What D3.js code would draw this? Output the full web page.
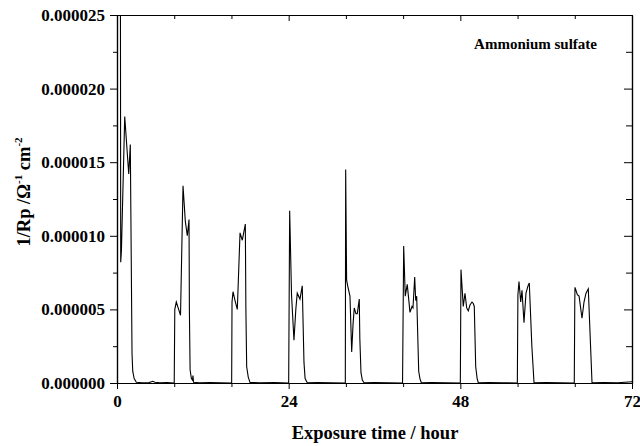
<!DOCTYPE html>
<html>
<head>
<meta charset="utf-8">
<script src="https://cdn.jsdelivr.net/npm/d3@7"></script>
<style>
  body { margin: 0; background: #fff; }
  text { font-family: "Liberation Serif", "Times New Roman", serif; font-weight: bold; fill: #000; }
</style>
</head>
<body>
<svg id="chart" width="640" height="446"></svg>
<script>
// exposure time (hours) and 1/Rp in units of 1e-6 ohm^-1 cm^-2
const hours = [
  0.40, 0.52, 0.62, 1.08, 1.64, 1.86, 2.10, 2.20, 2.40, 2.70, 3.5, 4.5, 5.0, 5.3, 6.0, 7.0, 7.98,
  8.00, 8.08, 8.29, 8.55, 8.88, 9.23, 9.55, 9.83, 10.07, 10.12, 10.22, 10.40, 10.55, 10.62, 10.70, 11.5, 13.0, 14.5, 15.98,
  16.03, 16.08, 16.22, 16.50, 16.82, 17.20, 17.52, 17.94, 18.02, 18.13, 18.35, 18.60, 20.0, 22.0, 23.98,
  24.00, 24.14, 24.40, 24.74, 25.00, 25.20, 25.58, 25.90, 26.14, 26.30, 26.60, 28.0, 30.0, 31.90,
  31.92, 31.97, 32.10, 32.25, 32.57, 32.81, 33.00, 33.17, 33.41, 33.59, 33.87, 33.95, 34.11, 34.30, 34.53, 36.0, 38.0, 39.90,
  39.92, 40.08, 40.30, 40.58, 40.96, 41.24, 41.38, 41.62, 41.76, 41.90, 42.18, 42.35, 42.54, 44.0, 46.0, 47.98,
  48.00, 48.09, 48.41, 48.65, 48.89, 49.11, 49.35, 49.63, 49.81, 49.95, 50.15, 50.35, 50.51, 52.0, 54.0, 55.95,
  55.97, 56.05, 56.20, 56.44, 56.62, 56.90, 57.18, 57.46, 57.64, 58.00, 58.30, 60.0, 62.0, 63.90,
  63.93, 64.00, 64.03, 64.36, 64.60, 65.01, 65.29, 65.57, 65.89, 66.41, 68.0, 70.0, 72.0
];
const conductance = [
  60, 8.2, 9.0, 18.1, 14.2, 16.2, 2.0, 0.8, 0.3, 0.05, 0.02, 0.03, 0.12, 0.05, 0.02, 0.03, 0.0,
  0.0, 5.0, 5.5, 5.1, 4.6, 13.4, 11.0, 10.0, 11.1, 5.0, 0.9, 0.3, 0.2, 0.5, 0.05, 0.02, 0.03, 0.02, 0.0,
  0.0, 5.5, 6.2, 5.6, 5.0, 10.2, 9.7, 10.8, 5.0, 1.1, 0.4, 0.03, 0.02, 0.03, 0.0,
  0.0, 11.7, 6.0, 2.9, 5.0, 6.1, 5.7, 6.6, 1.4, 0.3, 0.02, 0.03, 0.02, 0.0,
  0.0, 14.5, 7.0, 6.6, 5.9, 2.1, 4.0, 5.1, 4.7, 4.7, 5.7, 3.0, 0.7, 0.2, 0.02, 0.03, 0.02, 0.0,
  0.0, 9.3, 5.9, 6.7, 4.8, 5.2, 5.1, 7.2, 5.6, 5.9, 0.8, 0.3, 0.02, 0.03, 0.02, 0.0,
  0.0, 7.7, 5.2, 6.1, 5.1, 4.9, 5.3, 5.5, 5.4, 5.2, 1.1, 0.3, 0.02, 0.03, 0.02, 0.0,
  0.0, 6.0, 6.9, 5.5, 6.3, 4.1, 6.1, 6.6, 6.8, 2.5, 0.02, 0.03, 0.02, 0.0,
  0.0, 5.5, 6.5, 6.0, 5.9, 4.4, 5.5, 6.1, 6.4, 0.02, 0.03, 0.02, 0.08
];
const xMajorTicks = [0, 24, 48, 72];
const xMinorTicks = [8, 16, 32, 40, 56, 64];
const yMajorTicks = [0, 5, 10, 15, 20, 25];
const yMinorTicks = [2.5, 7.5, 12.5, 17.5, 22.5];

const margin = { top: 15, right: 8, bottom: 63, left: 117 },
  w = 640 - margin.left - margin.right,
  h = 446 - margin.top - margin.bottom;

const svg = d3.select("#chart");
const g = svg.append("g").attr("transform", `translate(${margin.left},${margin.top})`);

const x = d3.scaleLinear().domain([0, 72]).range([0, w]);
const y = d3.scaleLinear().domain([0, 25]).range([h, 0]);
const fmt = d => (d * 1e-6).toFixed(6);

function styleAxis(sel, size) {
  sel.select(".domain").attr("stroke", "#000").attr("stroke-width", 1.2);
  sel.selectAll(".tick line").attr("stroke", "#000").attr("stroke-width", 1);
  sel.selectAll("text").style("font-size", size + "px").attr("fill", "#000");
}

// minor ticks first (no labels)
g.append("g").attr("transform", `translate(0,${h})`)
  .call(d3.axisBottom(x).tickValues(xMinorTicks).tickSize(4).tickSizeOuter(0).tickFormat(""))
  .call(s => styleAxis(s, 17));
g.append("g")
  .call(d3.axisTop(x).tickValues(xMinorTicks).tickSize(-4).tickSizeOuter(0).tickFormat(""))
  .call(s => styleAxis(s, 17));
g.append("g")
  .call(d3.axisLeft(y).tickValues(yMinorTicks).tickSize(4).tickSizeOuter(0).tickFormat(""))
  .call(s => styleAxis(s, 17));
g.append("g").attr("transform", `translate(${w},0)`)
  .call(d3.axisRight(y).tickValues(yMinorTicks).tickSize(-6).tickSizeOuter(0).tickFormat(""))
  .call(s => styleAxis(s, 17));

// major ticks
g.append("g").attr("transform", `translate(0,${h})`)
  .call(d3.axisBottom(x).tickValues(xMajorTicks).tickSize(6).tickPadding(6).tickSizeOuter(0))
  .call(s => styleAxis(s, 17));
g.append("g")
  .call(d3.axisTop(x).tickValues(xMajorTicks).tickSize(-6).tickSizeOuter(0).tickFormat(""))
  .call(s => styleAxis(s, 17));
g.append("g")
  .call(d3.axisLeft(y).tickValues(yMajorTicks).tickSize(7).tickPadding(5).tickSizeOuter(0).tickFormat(fmt))
  .call(s => styleAxis(s, 17));
g.append("g").attr("transform", `translate(${w},0)`)
  .call(d3.axisRight(y).tickValues(yMajorTicks).tickSize(-8).tickSizeOuter(0).tickFormat(""))
  .call(s => styleAxis(s, 17));

// data line, clipped to the plot frame
g.append("clipPath").attr("id", "plotclip")
  .append("rect").attr("width", w).attr("height", h);

const points = hours.map((t, i) => [t, conductance[i]]);
g.append("path")
  .datum(points)
  .attr("clip-path", "url(#plotclip)")
  .attr("fill", "none")
  .attr("stroke", "#000")
  .attr("stroke-width", 1.1)
  .attr("d", d3.line().x(d => x(d[0])).y(d => y(d[1])));

// labels
svg.append("text")
  .attr("x", 597).attr("y", 49)
  .attr("text-anchor", "end")
  .style("font-size", "15px")
  .text("Ammonium sulfate");

svg.append("text")
  .attr("x", 375).attr("y", 439)
  .attr("text-anchor", "middle")
  .style("font-size", "18.5px")
  .text("Exposure time / hour");

const yl = svg.append("text")
  .attr("transform", "translate(30,192) rotate(-90)")
  .attr("text-anchor", "middle")
  .style("font-size", "18.5px");
yl.append("tspan").text("1/Rp /\u03A9");
yl.append("tspan").attr("dy", -8).style("font-size", "11px").text("-1");
yl.append("tspan").attr("dy", 8).text(" cm");
yl.append("tspan").attr("dy", -8).style("font-size", "11px").text("-2");
</script>
</body>
</html>
